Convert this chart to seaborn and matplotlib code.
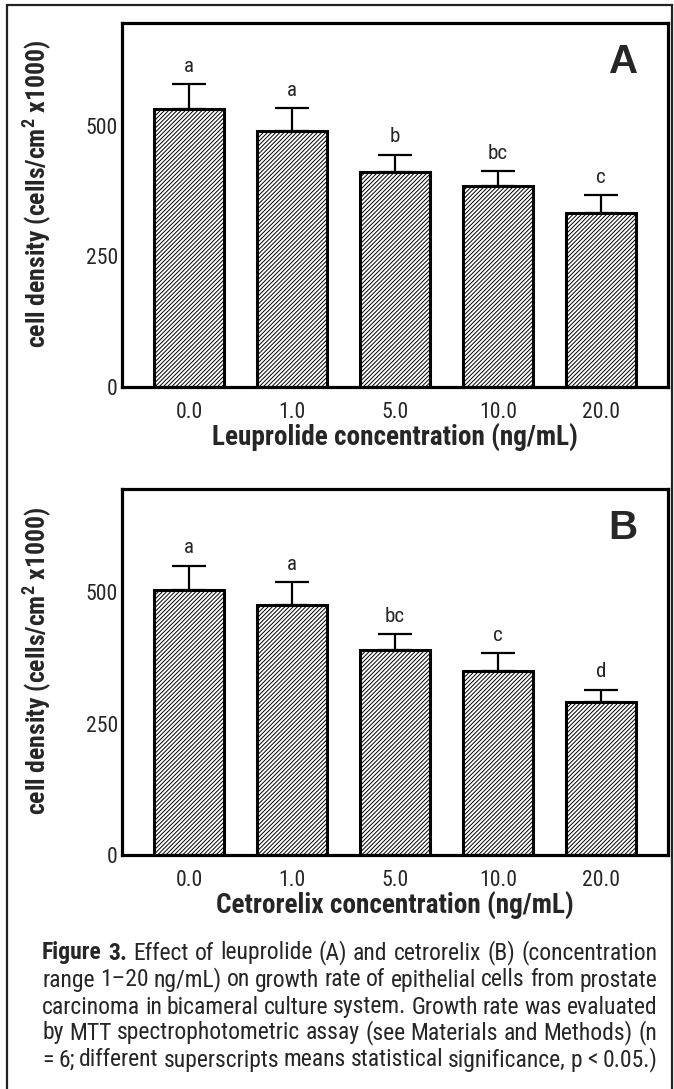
import matplotlib
matplotlib.use("Agg")
import matplotlib.pyplot as plt
from matplotlib import font_manager
from matplotlib.patches import Rectangle
import pandas as pd
import seaborn as sns

# values (cells/cm2 x1000)
concentrations = ["0.0", "1.0", "5.0", "10.0", "20.0"]
leuprolide_mean = [532, 490, 412, 384, 334]
leuprolide_sem = [48, 44, 33, 30, 33]
leuprolide_groups = ["a", "a", "b", "bc", "c"]
cetrorelix_mean = [504, 477, 391, 351, 292]
cetrorelix_sem = [47, 42, 29, 33, 23]
cetrorelix_groups = ["a", "a", "bc", "c", "d"]
y_ticks = [0, 250, 500]

caption_lines = [
    [("Figure", True), ("3.", True), ("Effect", False), ("of", False), ("leuprolide", False),
     ("(A)", False), ("and", False), ("cetrorelix", False), ("(B)", False), ("(concentration", False)],
    [(w, False) for w in "range 1\u201320 ng/mL) on growth rate of epithelial cells from prostate".split()],
    [(w, False) for w in "carcinoma in bicameral culture system. Growth rate was evaluated".split()],
    [(w, False) for w in "by MTT spectrophotometric assay (see Materials and Methods) (n".split()],
    [(w, False) for w in "= 6; different superscripts means statistical significance, p < 0.05.)".split()],
]

W, H = 674, 1089

sns.set_style("white")
names = {f.name for f in font_manager.fontManager.ttflist}
family = "Liberation Sans"
for cand in ["Liberation Sans Narrow", "Roboto Condensed", "Open Sans Condensed", "Arial Narrow"]:
    if cand in names:
        family = cand
        break
condensed = family != "Liberation Sans"
plt.rcParams["font.family"] = [family, "DejaVu Sans"]
plt.rcParams["hatch.linewidth"] = 0.7
plt.rcParams["mathtext.fontset"] = "custom"
plt.rcParams["mathtext.bf"] = family + ":bold"
plt.rcParams["mathtext.rm"] = family

scale = 1.12 if condensed else 1.0


def px_axes(left, top, right, bottom):
    return [left / W, 1 - bottom / H, (right - left) / W, (bottom - top) / H]


def draw_panel(ax, means, sems, groups, xlabel, letter):
    df = pd.DataFrame({"conc": concentrations, "density": means})
    sns.barplot(data=df, x="conc", y="density", order=concentrations, color="white",
                edgecolor="black", linewidth=2.2, width=0.68, errorbar=None, ax=ax)
    for p in ax.patches:
        p.set_hatch("////////")
        p.set_facecolor("white")
    ax.errorbar(range(len(means)), means, yerr=[[0] * len(sems), sems], fmt="none",
                ecolor="black", elinewidth=1.6, capsize=12.5, capthick=1.6, zorder=1)
    for i, (m, s, g) in enumerate(zip(means, sems, groups)):
        ax.text(i, m + s + 34, g, ha="center", va="center", fontsize=13.5 * scale)
    ax.set_xlim(-0.65, 4.65)
    ax.set_ylim(0, 697)
    ax.set_yticks(y_ticks)
    ax.tick_params(axis="y", direction="in", length=7, width=2, pad=3, labelsize=14 * scale)
    ax.tick_params(axis="x", length=0, pad=11, labelsize=14 * scale)
    for sp in ax.spines.values():
        sp.set_visible(True)
        sp.set_linewidth(2.3)
        sp.set_color("black")
    ax.set_xlabel(xlabel, fontsize=17.5 * scale, fontweight="bold")
    ax.xaxis.set_label_coords(0.5, -0.14)
    ax.xaxis.label.set_va("center")
    ax.set_ylabel(r"cell density (cells/cm$^\mathbf{2}$ x1000)", fontsize=16.5 * scale,
                  fontweight="bold")
    ax.yaxis.set_label_coords(-0.156, 0.53)
    ax.yaxis.label.set_va("center")
    ax.text(0.918, 0.893, letter, transform=ax.transAxes, ha="center", va="center",
            fontsize=29, fontweight="bold", family=["Liberation Sans", "DejaVu Sans"])


fig = plt.figure(figsize=(W / 100, H / 100), dpi=100)
ax_a = fig.add_axes(px_axes(122, 23, 668, 387))
ax_b = fig.add_axes(px_axes(122, 489, 668, 855))

draw_panel(ax_a, leuprolide_mean, leuprolide_sem, leuprolide_groups,
           "Leuprolide concentration (ng/mL)", "A")
draw_panel(ax_b, cetrorelix_mean, cetrorelix_sem, cetrorelix_groups,
           "Cetrorelix concentration (ng/mL)", "B")

# outer frame around the whole figure
fig.patches.append(Rectangle((7 / W, -0.02), (672 - 7) / W, 1.02 - 5 / H,
                             transform=fig.transFigure, fill=False,
                             edgecolor="#222222", linewidth=1.6))

# justified caption
renderer = fig.canvas.get_renderer()
x0, x1 = 42, 657
line_y = [953, 980, 1007, 1033, 1060]
cap_size = 17 if condensed else 15.5
for words, y in zip(caption_lines, line_y):
    texts = [fig.text(0, 1 - y / H, w, fontsize=cap_size, va="center", ha="left",
                      fontweight="bold" if b else "normal") for w, b in words]
    widths = [t.get_window_extent(renderer).width for t in texts]
    gap = (x1 - x0 - sum(widths)) / (len(texts) - 1)
    x = x0
    for t, wd in zip(texts, widths):
        t.set_x(x / W)
        x += wd + gap

fig.savefig("out.png", dpi=100)
